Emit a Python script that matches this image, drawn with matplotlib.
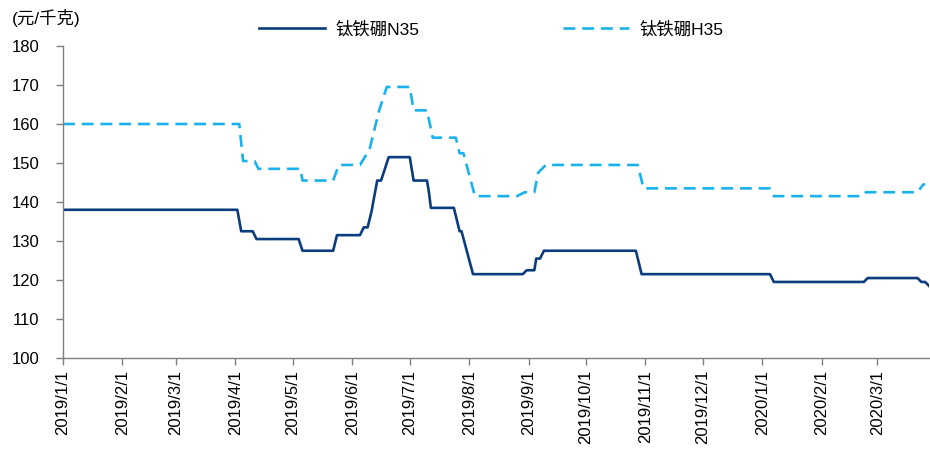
import matplotlib
matplotlib.use('AGG')
import matplotlib.pyplot as plt
import pandas as pd

plt.rcParams['font.family'] = ['Liberation Sans', 'Noto Sans CJK SC']

# 钛铁硼N35 price turning points (元/千克)
n35_dates = ['2019-01-01', '2019-04-02', '2019-04-04', '2019-04-10', '2019-04-12',
             '2019-05-04', '2019-05-06', '2019-05-22', '2019-05-24', '2019-06-05',
             '2019-06-07', '2019-06-09', '2019-06-11', '2019-06-14', '2019-06-16',
             '2019-06-20', '2019-07-01', '2019-07-03', '2019-07-10', '2019-07-11',
             '2019-07-12', '2019-07-24', '2019-07-27', '2019-07-28', '2019-08-03',
             '2019-08-29', '2019-08-31', '2019-09-04', '2019-09-05', '2019-09-07',
             '2019-09-09', '2019-10-27', '2019-10-29', '2019-10-30', '2020-01-05',
             '2020-01-07', '2020-02-23', '2020-02-25', '2020-03-22', '2020-03-24',
             '2020-03-26', '2020-03-28']
n35_values = [138, 138, 132.5, 132.5, 130.5,
              130.5, 127.5, 127.5, 131.5, 131.5,
              133.5, 133.5, 137.5, 145.5, 145.5,
              151.5, 151.5, 145.5, 145.5, 142.5,
              138.5, 138.5, 132.5, 132.5, 121.5,
              121.5, 122.5, 122.5, 125.5, 125.5,
              127.5, 127.5, 123.5, 121.5, 121.5,
              119.5, 119.5, 120.5, 120.5, 119.5,
              119.5, 118.5]

# 钛铁硼H35 price turning points (元/千克)
h35_dates = ['2019-01-01', '2019-04-03', '2019-04-05', '2019-04-11', '2019-04-13',
             '2019-05-05', '2019-05-06', '2019-05-22', '2019-05-25', '2019-06-05',
             '2019-06-10', '2019-06-14', '2019-06-15', '2019-06-19', '2019-07-01',
             '2019-07-03', '2019-07-10', '2019-07-13', '2019-07-25', '2019-07-27',
             '2019-07-29', '2019-08-04', '2019-08-26', '2019-08-30', '2019-09-04',
             '2019-09-06', '2019-09-10', '2019-10-28', '2019-10-31', '2020-01-05',
             '2020-01-07', '2020-02-22', '2020-02-24', '2020-03-22', '2020-03-25',
             '2020-03-26']
h35_values = [160, 160, 150.5, 150.5, 148.5,
              148.5, 145.5, 145.5, 149.5, 149.5,
              153.5, 161.5, 163.5, 169.5, 169.5,
              163.5, 163.5, 156.5, 156.5, 152.5,
              152.5, 141.5, 141.5, 142.5, 142.5,
              147.5, 149.5, 149.5, 143.5, 143.5,
              141.5, 141.5, 142.5, 142.5, 144.5,
              144.5]

tick_dates = pd.date_range('2019-01-01', '2020-03-01', freq='MS')
tick_labels = [f'{d.year}/{d.month}/{d.day}' for d in tick_dates]

fig = plt.figure(figsize=(9.3, 4.55), dpi=100)
ax = fig.add_axes([63 / 930, 1 - 358 / 455, 866 / 930, 312 / 455])

ax.plot(pd.to_datetime(n35_dates), n35_values, color='#0B3C7D', linewidth=1.9,
        label='钛铁硼N35')
ax.plot(pd.to_datetime(h35_dates), h35_values, color='#1AB2EC', linewidth=1.9,
        dashes=(4.5, 2.6), label='钛铁硼H35')

ax.set_xlim(pd.Timestamp('2019-01-01'), pd.Timestamp('2020-03-28'))
ax.set_ylim(100, 180)
ax.set_yticks(range(100, 181, 10))
ax.set_xticks(tick_dates)
ax.set_xticklabels(tick_labels, rotation=90)

for side in ['top', 'right']:
    ax.spines[side].set_visible(False)
for side in ['left', 'bottom']:
    ax.spines[side].set_color('#7f7f7f')
    ax.spines[side].set_linewidth(1.0)
ax.tick_params(axis='both', colors='#7f7f7f', labelcolor='black', labelsize=12,
               length=5, width=1.0, direction='out')
ax.tick_params(axis='y', pad=12)

fig.text(12 / 930, 1 - 18 / 455, '(元/千克)', fontsize=12.5, va='center', ha='left')

fig.legend(loc='center', bbox_to_anchor=(0.528, 1 - 29 / 455), ncol=2,
           frameon=False, fontsize=12.5, handlelength=3.8, handletextpad=0.6,
           columnspacing=8.3)

plt.savefig('out.png', dpi=100)
